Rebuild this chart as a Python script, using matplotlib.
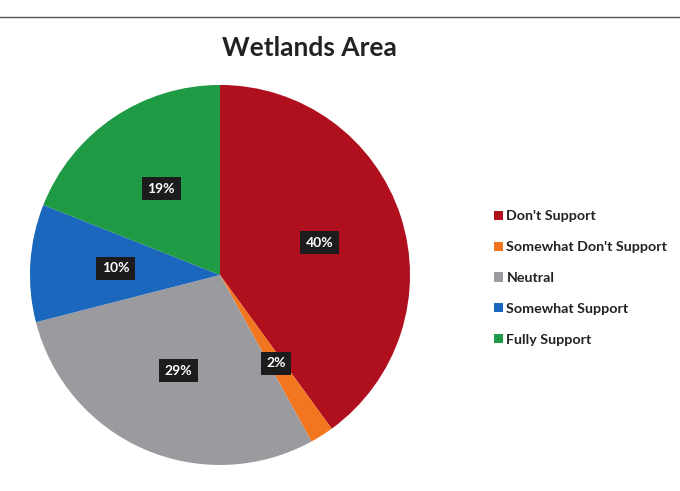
import matplotlib.pyplot as plt
from matplotlib.lines import Line2D
from matplotlib.patches import Patch

plt.rcParams['font.family'] = ['Lato', 'DejaVu Sans']

labels = ["Don't Support", "Somewhat Don't Support", "Neutral",
          "Somewhat Support", "Fully Support"]
shares = [40, 2, 29, 10, 19]
colors = ['#b0101e', '#f2751f', '#9b9b9f', '#1a67bd', '#1f9a45']

fig = plt.figure(figsize=(6.8, 4.91), dpi=100)

# chart frame edge along the top
fig.add_artist(Line2D([0.0, 1.0], [0.965, 0.965], color='#555555', lw=1.0))

fig.suptitle('Wetlands Area', x=0.455, y=0.926, fontsize=19,
             fontweight='bold', color='#222222')

ax = fig.add_axes([0.044, 0.053, 0.559, 0.774])
wedges, _, autotexts = ax.pie(
    shares, colors=colors, startangle=90, counterclock=False,
    autopct='%d%%', pctdistance=0.55,
    wedgeprops=dict(linewidth=0),
    textprops=dict(color='white', fontsize=10, fontweight='bold'))
for t in autotexts:
    t.set_bbox(dict(boxstyle='square,pad=0.4', fc='#1c1c1c', ec='none'))
ax.set_xlim(-1.0, 1.0)
ax.set_ylim(-1.0, 1.0)
ax.set_aspect('equal')

handles = [Patch(facecolor=c, edgecolor='none') for c in colors]
fig.legend(handles, labels, loc='upper left', bbox_to_anchor=(0.708, 0.598),
           frameon=False, fontsize=10.3, labelspacing=1.32,
           handlelength=0.6, handleheight=0.6, handletextpad=0.25,
           labelcolor='#222222', prop=dict(weight='bold', size=10.3))

fig.savefig('out.png', dpi=100)
